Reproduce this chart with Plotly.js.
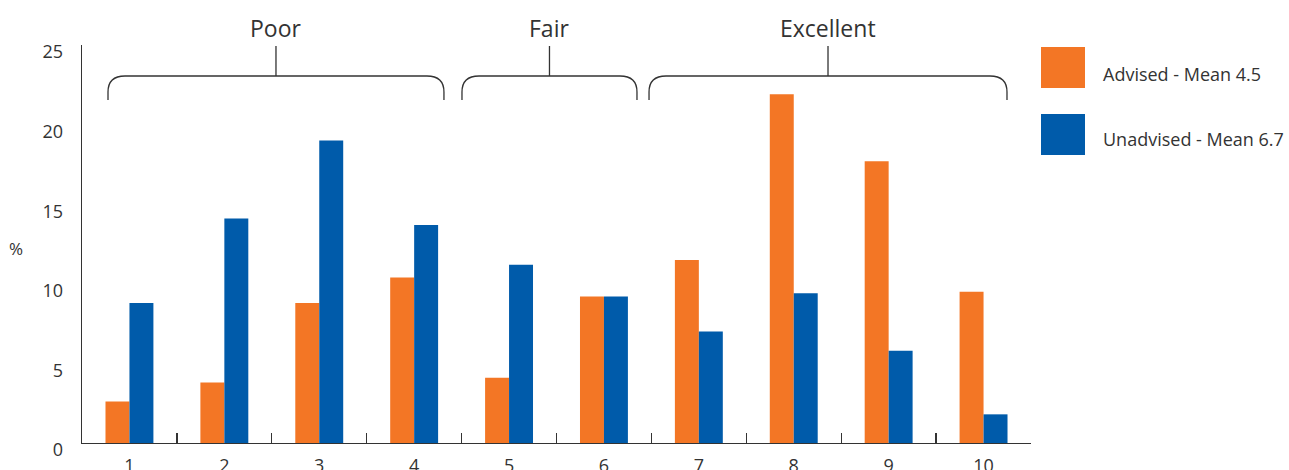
<!DOCTYPE html>
<html>
<head>
<meta charset="utf-8">
<script src="https://cdn.plot.ly/plotly-3.0.1.min.js"></script>
<style>
html,body{margin:0;padding:0;background:#fff}
#chart{width:1289px;height:470px}
</style>
</head>
<body>
<div id="chart"></div>
<script>
// ---- data ----
const categories = ['1','2','3','4','5','6','7','8','9','10'];
const advised = [2.6, 3.8, 8.8, 10.4, 4.1, 9.2, 11.5, 21.9, 17.7, 9.5];
const unadvised = [8.8, 14.1, 19.0, 13.7, 11.2, 9.2, 7.0, 9.4, 5.8, 1.8];
const seriesNames = ['Advised - Mean 4.5', 'Unadvised - Mean 6.7'];
const groupLabels = ['Poor', 'Fair', 'Excellent'];
const groupFirst = ['1', '5', '7'];
const groupLast = ['4', '6', '10'];
const yTickVals = [0, 5, 10, 15, 20, 25];
const yTickText = ['0', '5', '10', '15', '20', '25'];
const yLabel = '%';

// ---- styling ----
const colors = ['#F37625', '#005BAA'];
const ink = '#333333';
const fontFam = '"Open Sans", "Noto Sans", sans-serif';
const W = 1289, H = 470;
const M = {l: 82, r: 258, t: 45, b: 27};
const plotW = W - M.l - M.r, plotH = H - M.t - M.b;
const pxX = px => (px - M.l) / plotW;       // page px -> paper x
const pxY = py => (H - M.b - py) / plotH;   // page py -> paper y
const catPaper = v => (v + 0.5) / categories.length; // category index -> paper x

// brace extents relative to first/last category (category units)
const braceExtra = [[-0.226, 0.314], [-0.496, 0.348], [-0.525, 0.247]];

const traces = [advised, unadvised].map((vals, i) => ({
  type: 'bar',
  name: seriesNames[i],
  x: categories,
  y: vals,
  marker: {color: colors[i], line: {width: 0}},
  hoverinfo: 'x+y+name'
}));

const shapes = [];
const annotations = [];

// braces + group labels
const rx = 17 / plotW, ry = 16 / plotH;
const yBottom = pxY(100), yArcStart = pxY(92), yTop = pxY(76), yStem = pxY(46);
groupLabels.forEach((g, i) => {
  const a = catPaper(categories.indexOf(groupFirst[i]) + braceExtra[i][0]);
  const b = catPaper(categories.indexOf(groupLast[i]) + braceExtra[i][1]);
  const mid = (a + b) / 2;
  shapes.push({
    type: 'path', xref: 'paper', yref: 'paper',
    path: `M ${a} ${yBottom} L ${a} ${yArcStart} Q ${a} ${yTop} ${a + rx} ${yTop} L ${b - rx} ${yTop} Q ${b} ${yTop} ${b} ${yArcStart} L ${b} ${yBottom}`,
    line: {color: ink, width: 1.3}
  });
  shapes.push({
    type: 'line', xref: 'paper', yref: 'paper',
    x0: mid, x1: mid, y0: yTop, y1: yStem,
    line: {color: ink, width: 1.3}
  });
  annotations.push({
    xref: 'paper', yref: 'paper', x: mid, y: pxY(28),
    text: g, showarrow: false, xanchor: 'center', yanchor: 'middle',
    font: {family: fontFam, size: 23, color: ink}
  });
});

// custom legend
const legendBoxes = [[47, 88], [114, 155]];
const legendTextY = [74, 139];
seriesNames.forEach((n, i) => {
  shapes.push({
    type: 'rect', xref: 'paper', yref: 'paper',
    x0: pxX(1041), x1: pxX(1085), y0: pxY(legendBoxes[i][1]), y1: pxY(legendBoxes[i][0]),
    fillcolor: colors[i], line: {width: 0}
  });
  annotations.push({
    xref: 'paper', yref: 'paper', x: pxX(1101), y: pxY(legendTextY[i]),
    text: n, showarrow: false, xanchor: 'left', yanchor: 'middle',
    font: {family: fontFam, size: 18, color: ink}
  });
});

// y axis label
annotations.push({
  xref: 'paper', yref: 'paper', x: pxX(16), y: pxY(248),
  text: yLabel, showarrow: false, xanchor: 'center', yanchor: 'middle',
  font: {family: fontFam, size: 17, color: ink}
});

const layout = {
  width: W, height: H,
  margin: M,
  paper_bgcolor: '#fff', plot_bgcolor: '#fff',
  showlegend: false,
  barmode: 'group',
  bargap: 0.495,
  bargroupgap: 0,
  font: {family: fontFam, size: 18, color: ink},
  xaxis: {
    type: 'category',
    range: [-0.5, categories.length - 0.5],
    tickson: 'boundaries',
    ticks: 'inside', ticklen: 10, tickwidth: 1.4, tickcolor: ink,
    showline: true, linecolor: ink, linewidth: 1.4,
    showgrid: false, zeroline: false,
    tickfont: {family: fontFam, size: 18, color: ink},
    ticklabelstandoff: 6,
    fixedrange: true
  },
  yaxis: {
    range: [0, 25],
    tickvals: yTickVals, ticktext: yTickText,
    ticks: '', showline: true, linecolor: ink, linewidth: 1.4,
    showgrid: false, zeroline: false,
    tickfont: {family: fontFam, size: 18, color: ink},
    ticklabelstandoff: 14,
    ticklabelshift: 7,
    fixedrange: true
  },
  shapes: shapes,
  annotations: annotations
};

Plotly.newPlot('chart', traces, layout, {displayModeBar: false, staticPlot: true});
</script>
</body>
</html>
